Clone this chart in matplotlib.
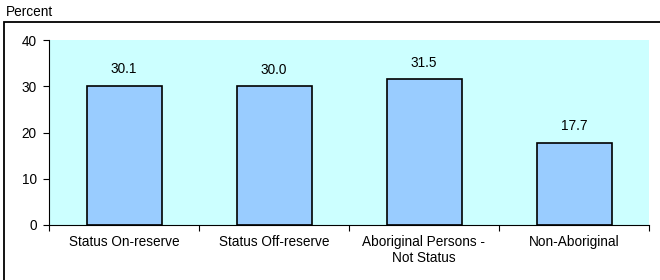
import matplotlib
matplotlib.use("Agg")
import matplotlib.pyplot as plt
from matplotlib.patches import Rectangle

# Dane wykresu
categories = ["Status On-reserve", "Status Off-reserve",
              "Aboriginal Persons -\nNot Status", "Non-Aboriginal"]
values = [30.1, 30.0, 31.5, 17.7]
yticks = [0, 10, 20, 30, 40]

plt.rcParams['font.family'] = ['Liberation Sans', 'DejaVu Sans']
plt.rcParams['font.size'] = 9.8

fig = plt.figure(figsize=(6.6, 2.8), dpi=100)
W, H = 660, 280

# ramka wokół całego wykresu (prawa i dolna krawędź poza obrazkiem)
fig.patches.append(Rectangle((4 / W, -0.1), 1.2, (280 - 22) / H + 0.1,
                             transform=fig.transFigure, fill=False,
                             edgecolor='black', linewidth=1.3))
fig.text(6 / W, 1 - 12 / H, "Percent", ha='left', va='center')

ax = fig.add_axes([49 / W, 55 / H, 600 / W, 185 / H])
ax.set_facecolor('#CCFFFF')

x = list(range(len(categories)))
ax.bar(x, values, width=0.5, color='#99CCFF', edgecolor='black', linewidth=1.2)
for xi, v in zip(x, values):
    ax.text(xi, v + 2.1, f"{v:.1f}", ha='center', va='bottom')

ax.set_xlim(-0.5, len(categories) - 0.5)
ax.set_ylim(0, 40)
ax.set_yticks(yticks)
ax.set_xticks([i - 0.5 for i in range(len(categories) + 1)])
ax.set_xticklabels([])
ax.set_xticks(x, minor=True)
ax.set_xticklabels(categories, minor=True)
ax.tick_params(axis='x', which='minor', length=0, pad=7)
ax.tick_params(axis='x', which='major', length=4, direction='out')
ax.tick_params(axis='y', length=4, direction='out', pad=5)
ax.spines['top'].set_visible(False)
ax.spines['right'].set_visible(False)

fig.savefig("out.png", dpi=100)
